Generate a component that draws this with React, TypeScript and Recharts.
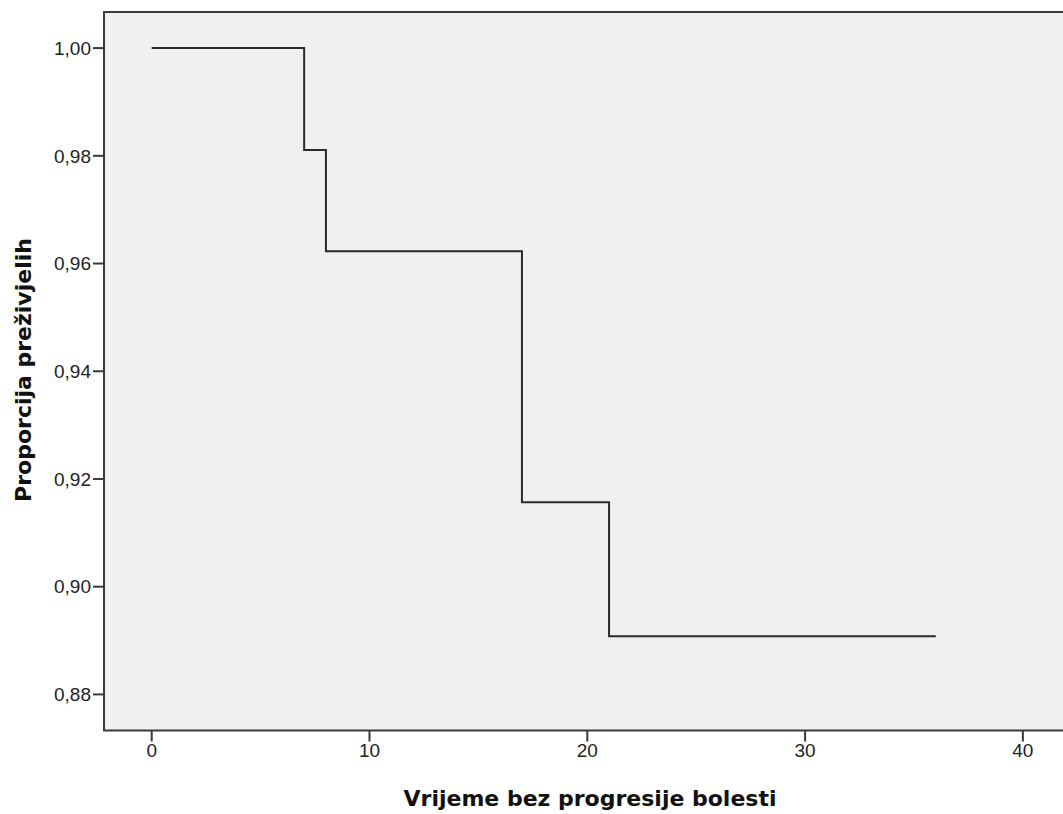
import React from "react";
import { LineChart, Line, XAxis, YAxis, ReferenceArea } from "recharts";

// Kaplan-Meier step points
const months = [0, 7, 8, 17, 21, 36];
const survival = [1.0, 0.9811, 0.9623, 0.9157, 0.8908, 0.8908];
const xTicks = [0, 10, 20, 30, 40];
const yTicks = [0.88, 0.9, 0.92, 0.94, 0.96, 0.98, 1.0];

const data = months.map((m, i) => ({ t: m, s: survival[i] }));

const X_MIN = -2.19;
const X_MAX = 41.98;
const Y_MIN = 0.8733;
const Y_MAX = 1.0067;

const FONT = "'Liberation Sans', Arial, sans-serif";
const TITLE_FONT = "'DejaVu Sans', Verdana, sans-serif";
const fmt = (v: number) => v.toFixed(2).replace(".", ",");

export default function App() {
  return (
    <div style={{ position: "absolute", left: 0, top: 0, width: 1063, height: 814, background: "#fff", overflow: "hidden" }}>
      <LineChart
        width={1063}
        height={814}
        data={data}
        margin={{ top: 12, right: -3, left: 0, bottom: 0 }}
      >
        <ReferenceArea
          x1={X_MIN}
          x2={X_MAX}
          y1={Y_MIN}
          y2={Y_MAX}
          fill="#f0f0f0"
          fillOpacity={1}
          stroke="#3a3a3a"
          strokeWidth={2}
          ifOverflow="visible"
        />
        <XAxis
          dataKey="t"
          type="number"
          domain={[X_MIN, X_MAX]}
          ticks={xTicks}
          height={83.5}
          axisLine={false}
          tickSize={11}
          tickLine={{ stroke: "#3a3a3a", strokeWidth: 2 }}
          tick={{ fontSize: 19, fill: "#222", fontFamily: FONT }}
          label={{
            content: () => (
              <text
                x={590}
                y={806}
                textAnchor="middle"
                fontFamily={TITLE_FONT}
                fontWeight="bold"
                fontSize={22}
                fill="#111"
              >
                Vrijeme bez progresije bolesti
              </text>
            ),
          }}
        />
        <YAxis
          type="number"
          domain={[Y_MIN, Y_MAX]}
          ticks={yTicks}
          width={104}
          axisLine={false}
          tickSize={11}
          tickFormatter={fmt}
          tickLine={{ stroke: "#3a3a3a", strokeWidth: 2 }}
          tick={{ fontSize: 19, fill: "#222", fontFamily: FONT }}
          label={{
            content: () => (
              <text
                x={0}
                y={0}
                transform="translate(31, 370) rotate(-90)"
                textAnchor="middle"
                fontFamily={TITLE_FONT}
                fontWeight="bold"
                fontSize={22}
                fill="#111"
              >
                Proporcija preživjelih
              </text>
            ),
          }}
        />
        <Line
          type="stepAfter"
          dataKey="s"
          stroke="#2a2a2a"
          strokeWidth={2}
          dot={false}
          isAnimationActive={false}
        />
      </LineChart>
    </div>
  );
}
